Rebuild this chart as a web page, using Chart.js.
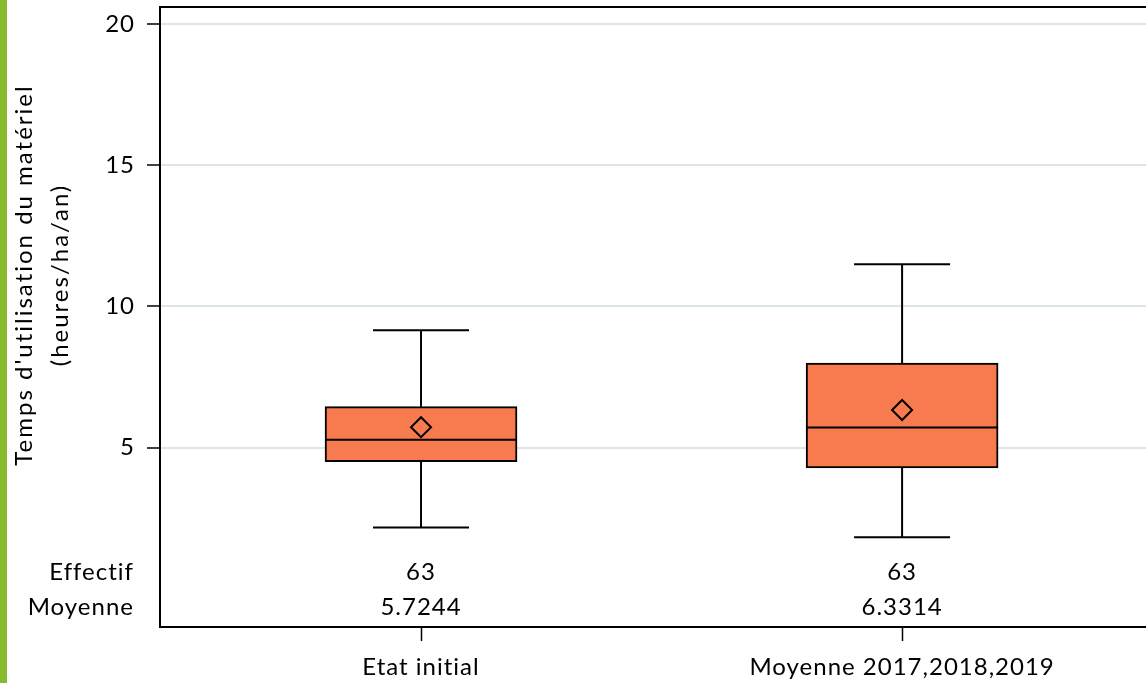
<!DOCTYPE html>
<html>
<head>
<meta charset="utf-8">
<script src="https://cdn.jsdelivr.net/npm/chart.js@4.4.1/dist/chart.umd.min.js"></script>
<style>
  html, body { margin: 0; padding: 0; background: #fff; overflow: hidden; }
  #wrap { position: relative; width: 1146px; height: 683px; }
  #stripe { position: absolute; left: 0; top: 0; width: 7px; height: 683px; background: #86bb2f; }
</style>
</head>
<body>
<div id="wrap">
  <canvas id="chart" width="1146" height="683"></canvas>
  <div id="stripe"></div>
</div>
<script>
const categories = ['Etat initial', 'Moyenne 2017,2018,2019'];
const minVals = [2.17, 1.83];
const q1Vals = [4.50, 4.28];
const medianVals = [5.28, 5.71];
const q3Vals = [6.45, 7.99];
const maxVals = [9.16, 11.49];
const meanVals = [5.7244, 6.3314];
const counts = [63, 63];
const yTicks = [5, 10, 15, 20];
const yTitle = ["Temps d'utilisation du matériel", '(heures/ha/an)'];
const rowLabels = ['Effectif', 'Moyenne'];

const FONT = 'Lato, "Open Sans", sans-serif';
const BOX_W = 192;

const xs = categories.map((c, i) => i + 1);

// a bit of letter spacing so Lato gets closer to the original text widths
const spacing = {
  id: 'spacing',
  beforeUpdate(chart) { chart.ctx.letterSpacing = '1px'; },
  beforeDraw(chart) { chart.ctx.letterSpacing = '1px'; }
};

// whiskers, medians, frame top, inset table and y title
const boxExtras = {
  id: 'boxExtras',
  afterDatasetsDraw(chart) {
    const { ctx, scales: { x, y } } = chart;
    ctx.save();
    ctx.strokeStyle = '#000';
    ctx.lineWidth = 2;
    const seg = (x1, y1, x2, y2) => {
      ctx.beginPath(); ctx.moveTo(x1, y1); ctx.lineTo(x2, y2); ctx.stroke();
    };
    xs.forEach((v, i) => {
      const cx = x.getPixelForValue(v);
      seg(cx, y.getPixelForValue(q3Vals[i]), cx, y.getPixelForValue(maxVals[i]));
      seg(cx, y.getPixelForValue(q1Vals[i]), cx, y.getPixelForValue(minVals[i]));
      seg(cx - BOX_W / 4, y.getPixelForValue(maxVals[i]), cx + BOX_W / 4, y.getPixelForValue(maxVals[i]));
      seg(cx - BOX_W / 4, y.getPixelForValue(minVals[i]), cx + BOX_W / 4, y.getPixelForValue(minVals[i]));
      seg(cx - BOX_W / 2, y.getPixelForValue(medianVals[i]), cx + BOX_W / 2, y.getPixelForValue(medianVals[i]));
    });
    ctx.restore();
  },
  afterDraw(chart) {
    const { ctx, chartArea, scales: { x } } = chart;
    ctx.save();
    ctx.strokeStyle = '#000';
    ctx.lineWidth = 2;
    ctx.beginPath();
    ctx.moveTo(chartArea.left, chartArea.top);
    ctx.lineTo(chartArea.right, chartArea.top);
    ctx.stroke();

    ctx.fillStyle = '#000';
    ctx.font = '24px ' + FONT;
    ctx.letterSpacing = '1px';
    ctx.textBaseline = 'middle';
    const rowY = [572, 607];
    ctx.textAlign = 'right';
    rowLabels.forEach((t, r) => ctx.fillText(t, 134, rowY[r]));
    ctx.textAlign = 'center';
    xs.forEach((v, i) => {
      const cx = x.getPixelForValue(v);
      ctx.fillText(String(counts[i]), cx, rowY[0]);
      ctx.fillText(meanVals[i].toFixed(4), cx, rowY[1]);
    });

    ctx.letterSpacing = '2px';
    ctx.translate(0, 275);
    ctx.rotate(-Math.PI / 2);
    ctx.fillText(yTitle[0], 0, 24);
    ctx.fillText(yTitle[1], 0, 60);
    ctx.restore();
  }
};

new Chart(document.getElementById('chart'), {
  type: 'bar',
  data: {
    datasets: [
      {
        type: 'scatter',
        data: xs.map((v, i) => ({ x: v, y: meanVals[i] })),
        pointStyle: 'rectRot',
        pointRadius: 10,
        borderColor: '#000',
        borderWidth: 2,
        backgroundColor: 'rgba(0,0,0,0)',
        order: 0
      },
      {
        data: xs.map((v, i) => ({ x: v, y: [q1Vals[i], q3Vals[i]] })),
        backgroundColor: '#f77b4f',
        borderColor: '#000',
        borderWidth: 2,
        borderSkipped: false,
        barThickness: BOX_W,
        order: 1
      }
    ]
  },
  options: {
    responsive: false,
    animation: false,
    layout: { autoPadding: false, padding: { top: 7, left: 0, right: 0, bottom: 0 } },
    plugins: { legend: { display: false }, tooltip: { enabled: false } },
    scales: {
      x: {
        type: 'linear',
        offset: false,
        min: 0.4574,
        max: 2.507,
        afterBuildTicks: (axis) => { axis.ticks = xs.map(v => ({ value: v })); },
        afterFit: (axis) => {
          axis.height = 56;
          axis.paddingLeft = 0; axis.paddingRight = 0;
        },
        border: { color: '#000', width: 2 },
        grid: { offset: false, drawOnChartArea: false, tickLength: 14, tickColor: '#000', tickWidth: 1.5 },
        ticks: {
          color: '#000',
          font: { family: FONT, size: 24 },
          padding: 12,
          maxRotation: 0,
          callback: (v) => categories[v - 1]
        }
      },
      y: {
        min: -1.35,
        max: 20.6,
        afterBuildTicks: (axis) => { axis.ticks = yTicks.map(v => ({ value: v })); },
        afterFit: (axis) => {
          axis.width = 160;
          axis.paddingTop = 0; axis.paddingBottom = 0;
        },
        border: { color: '#000', width: 2 },
        grid: { color: '#dde6e6', lineWidth: 2, tickLength: 13, tickColor: '#000', tickWidth: 1.5 },
        ticks: {
          color: '#000',
          font: { family: FONT, size: 24 },
          padding: 12
        }
      }
    }
  },
  plugins: [spacing, boxExtras]
});
</script>
</body>
</html>
